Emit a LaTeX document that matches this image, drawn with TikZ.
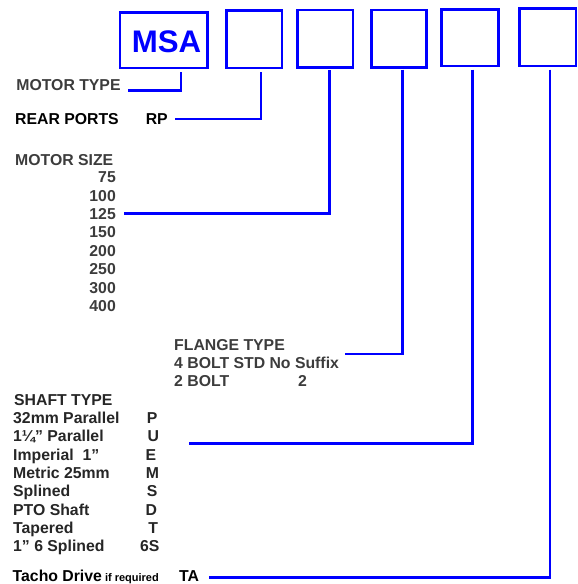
\documentclass[tikz,border=0pt]{standalone}
\usepackage{fontspec}
\setmainfont{Liberation Sans}
\definecolor{txtgray}{HTML}{3C3C3C}
\definecolor{txtdark}{HTML}{262626}
\definecolor{lineblue}{HTML}{0000FF}
\begin{document}
\begin{tikzpicture}[x=1pt,y=-1pt,
  box/.style={draw=lineblue, line width=2.8pt, inner sep=0pt},
  conn/.style={draw=lineblue, line width=2.8pt},
  lbl/.style={inner sep=0pt, anchor=base west, font=\bfseries\fontsize{15.8}{18}\selectfont, text=txtgray},
  lblr/.style={lbl, anchor=base east},
  code/.style={lbl, anchor=base, text=txtdark}]
\useasboundingbox (0,0) rectangle (578,584);

% boxes
\node[box, minimum width=87.5pt, minimum height=55.3pt] (b1) at (163.75,40.35) {};
\node[box, minimum width=55.3pt, minimum height=57.3pt] (b2) at (254.35,39.35) {};
\node[box, minimum width=55.2pt, minimum height=57.7pt] (b3) at (325.4,38.85) {};
\node[box, minimum width=55.3pt, minimum height=57.7pt] (b4) at (399.15,38.85) {};
\node[box, minimum width=56.7pt, minimum height=56.7pt] (b5) at (469.95,37.65) {};
\node[box, minimum width=56.3pt, minimum height=57.7pt] (b6) at (547.85,37.15) {};
\node[inner sep=0pt, anchor=base west, text=lineblue, font=\bfseries\fontsize{31.2}{32}\selectfont] (msa) at (131.6,52.3) {MSA};

% connector start points below boxes
\coordinate (c1) at (181,72);
\coordinate (c2) at (261,72);
\coordinate (c3) at (329.5,70);
\coordinate (c4) at (402.5,69.5);
\coordinate (c5) at (472.5,69.5);
\coordinate (c6) at (550,69.5);

% motor type
\node[lbl] (mt) at (16.2,90.7) {MOTOR TYPE};
% rear ports
\node[lbl, text=black] (rpl) at (15,124.3) {REAR PORTS};
\node[lbl, text=black] (rp) at (145.6,124.3) {RP};

% motor size
\node[lbl] (ms) at (15,165.7) {MOTOR SIZE};
\node[lblr] (n75) at (116,182.7) {75};
\node[lblr] (n100) at (116,201.0) {100};
\node[lblr] (n125) at (116,219.4) {125};
\node[lblr] (n150) at (116,237.8) {150};
\node[lblr] (n200) at (116,256.2) {200};
\node[lblr] (n250) at (116,274.6) {250};
\node[lblr] (n300) at (116,293.0) {300};
\node[lblr] (n400) at (116,311.4) {400};

% flange type
\node[lbl] (ft) at (174,350) {FLANGE TYPE};
\node[lbl] (ft4) at (174,368) {4 BOLT STD No Suffix};
\node[lbl] (ft2) at (174,386) {2 BOLT};
\node[code, text=txtgray] (ft2c) at (302.5,386) {2};

% shaft type
\node[lbl, text=txtdark] (st) at (14,405) {SHAFT TYPE};
\node[lbl, text=txtdark] (s1) at (13,423.35) {32mm Parallel};
\node[lbl, text=txtdark] (s2) at (13,441.7) {1\char"00BC" Parallel};
\node[lbl, text=txtdark] (s3) at (13,460.05) {Imperial\ \ 1\char"201D};
\node[lbl, text=txtdark] (s4) at (13,478.4) {Metric 25mm};
\node[lbl, text=txtdark] (s5) at (13,496.75) {Splined};
\node[lbl, text=txtdark] (s6) at (13,515.1) {PTO Shaft};
\node[lbl, text=txtdark] (s7) at (13,533.45) {Tapered};
\node[lbl, text=txtdark] (s8) at (13,551.8) {1\char"201D{} 6 Splined};
\node[code] (k1) at (152.2,423.35) {P};
\node[code] (k2) at (153.3,441.7) {U};
\node[code] (k3) at (150.8,460.05) {E};
\node[code] (k4) at (152.5,478.4) {M};
\node[code] (k5) at (152.2,496.75) {S};
\node[code] (k6) at (151.3,515.1) {D};
\node[code] (k7) at (153.3,533.45) {T};
\node[code] (k8) at (149.7,551.8) {6S};

% tacho
\node[lbl, text=black] (td) at (12.5,581.4) {Tacho Drive{\fontsize{11}{12}\selectfont\ if required}};
\node[lbl, text=black] (ta) at (179,581.4) {TA};

% connectors
\draw[conn] (c1) |- ([xshift=7pt]mt.base east);
\draw[conn] (c2) |- ([xshift=7pt,yshift=5.3pt]rp.base east);
\draw[conn] (c3) |- ([xshift=8pt,yshift=5.6pt]n125.base east);
\draw[conn] (c4) |- ([xshift=5.5pt,yshift=14pt]ft4.base east);
\draw[conn] (c5) |- ([xshift=30pt,yshift=-1.6pt]k2.base east);
\draw[conn] (c6) |- ([xshift=9.5pt,yshift=4pt]ta.base east);
\end{tikzpicture}
\end{document}
